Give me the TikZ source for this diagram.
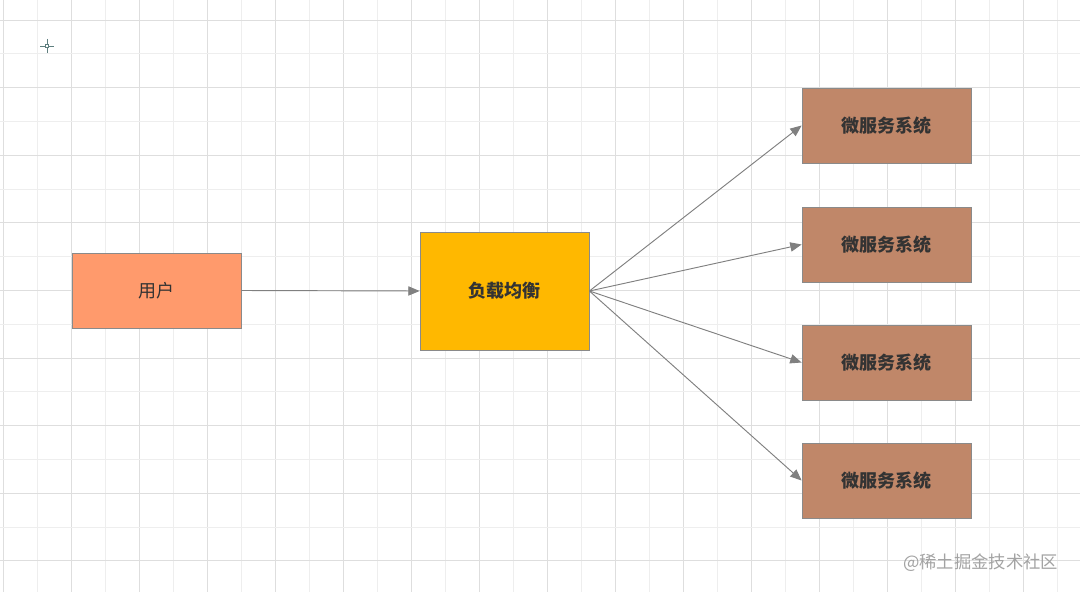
\documentclass[tikz,border=0pt]{standalone}
\usepackage{fontspec}
\usepackage{tikz}
\usetikzlibrary{arrows.meta}
\newfontfamily\cjk{Noto Sans CJK SC}

\definecolor{userfill}{HTML}{FF9A6C}
\definecolor{lbfill}{HTML}{FFB800}
\definecolor{msfill}{HTML}{C08769}
\definecolor{boxline}{HTML}{8A8A8A}
\definecolor{boxtext}{HTML}{333333}
\definecolor{arrowline}{HTML}{808080}
\definecolor{gridA}{HTML}{DEDEDE}
\definecolor{gridB}{HTML}{EEEEEE}
\definecolor{marktxt}{HTML}{A3A3A3}
\definecolor{cursor}{HTML}{5F7F7F}

\begin{document}
\begin{tikzpicture}[x=0.75pt, y=-0.75pt,
	box/.style={draw=boxline, line width=0.6pt, rectangle, minimum width=126.75pt,
		minimum height=56.25pt, text=boxtext, font=\cjk\bfseries\fontsize{13.5}{16}\selectfont},
	link/.style={draw=arrowline, line width=0.7pt, -{Triangle[length=8.5pt,width=7pt]}},
	gridmajor/.style={draw=gridA, line width=0.6pt},
	gridminor/.style={draw=gridB, line width=0.6pt}]
				\useasboundingbox (0,0) rectangle (1080,592);
				\fill[white] (0,0) rectangle (1080,592);
				
				% Grid
				\foreach \i in {0,...,31} {
					\pgfmathsetmacro{\gx}{3+34*\i}
					\ifodd\i \draw[gridminor] (\gx,0) -- (\gx,592);
					\else \draw[gridmajor] (\gx,0) -- (\gx,592); \fi
				}
				\foreach \j in {0,...,16} {
					\pgfmathsetmacro{\gy}{20+33.8*\j}
					\ifodd\j \draw[gridminor] (0,\gy) -- (1080,\gy);
					\else \draw[gridmajor] (0,\gy) -- (1080,\gy); \fi
				}
				
				% Cursor mark
				\draw[cursor, line width=0.5pt] (40,46) -- (45,46) (49,46) -- (54,46)
					(47,39) -- (47,44) (47,48) -- (47,53);
				\draw[cursor, line width=0.5pt] (45.5,44.5) rectangle (48.5,47.5);
				
				% Boxes
				\node[box, fill=userfill, font=\cjk\fontsize{13.5}{16}\selectfont] (user) at (156.5,290.5) {用户};
				\node[box, fill=lbfill, minimum height=88.5pt] (lb) at (504.5,291) {负载均衡};
				
				\node[box, fill=msfill] (ms1) at (886.5,125.5) {微服务系统};
				\node[box, fill=msfill] (ms2) at (886.5,244.5) {微服务系统};
				\node[box, fill=msfill] (ms3) at (886.5,362.5) {微服务系统};
				\node[box, fill=msfill] (ms4) at (886.5,480.5) {微服务系统};
				
				% Arrows
				\draw[link] (user.east) -- (lb.west); % user to balancer
				\draw[link] (lb.east) -- (ms1.west);
				\draw[link] (lb.east) -- (ms2.west);
				\draw[link] (lb.east) -- (ms3.west);
				\draw[link] (lb.east) -- (ms4.west);
				
				% Watermark
				\node[anchor=east, text=marktxt, font=\cjk\fontsize{13}{15}\selectfont] (mark) at (1063,563) {@稀土掘金技术社区};
			\end{tikzpicture}
\end{document}
